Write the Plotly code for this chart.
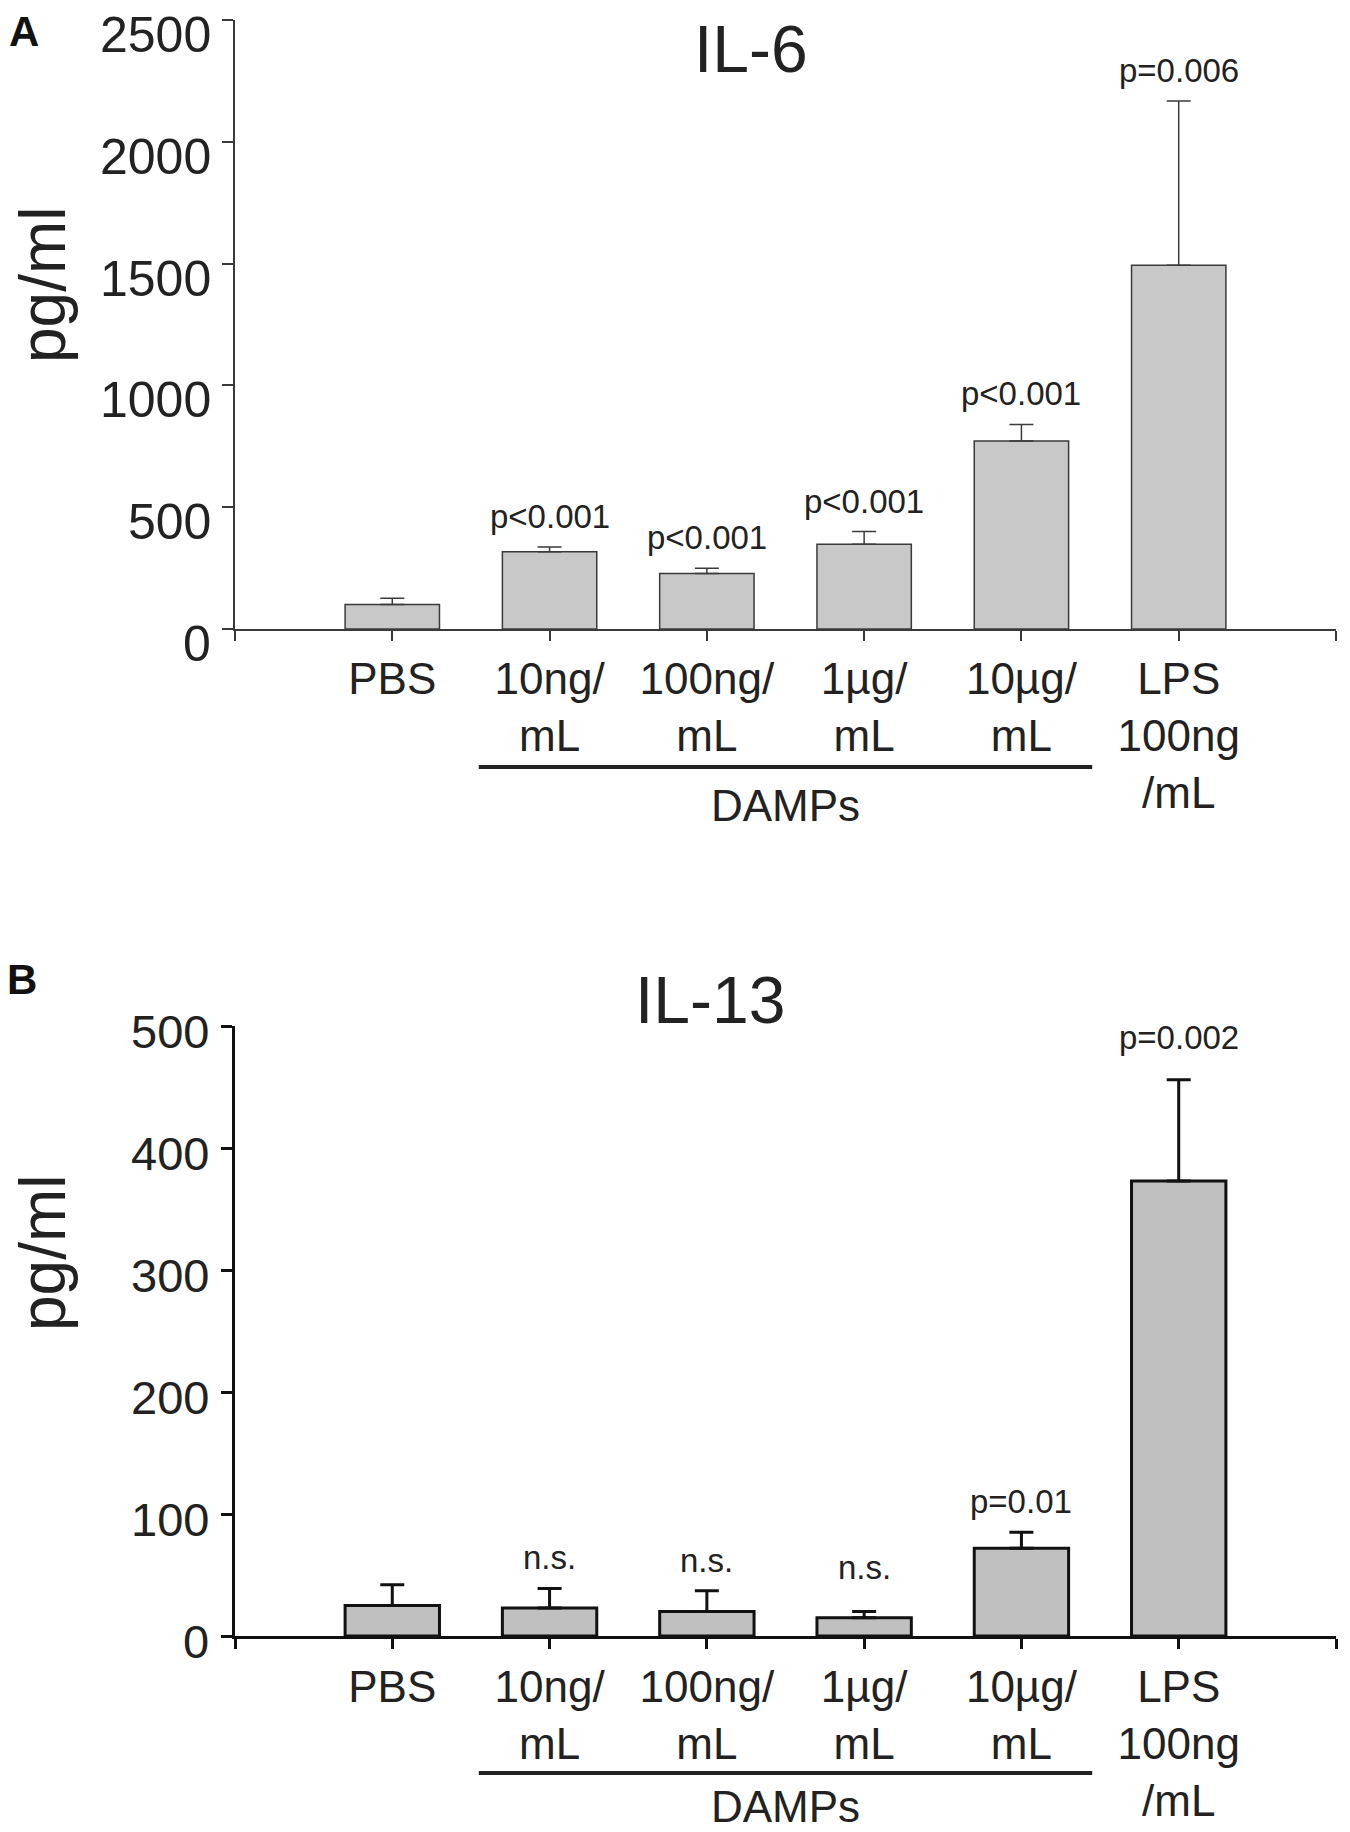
import plotly.graph_objects as go

# categories shared by both panels
categories = ["PBS", "10ng/<br>mL", "100ng/<br>mL", "1µg/<br>mL", "10µg/<br>mL", "LPS<br>100ng<br>/mL"]

# IL-6 (panel A): mean and top of error bar, pg/ml
il6_mean = [101, 317, 228, 348, 772, 1493]
il6_top = [126, 337, 249, 400, 840, 2167]
il6_labels = ["", "p<0.001", "p<0.001", "p<0.001", "p<0.001", "p=0.006"]
il6_ticks = [0, 500, 1000, 1500, 2000, 2500]

# IL-13 (panel B)
il13_mean = [25, 23, 20, 15, 72, 373]
il13_top = [42, 39, 37, 20, 85, 456]
il13_labels = ["", "n.s.", "n.s.", "n.s.", "p=0.01", "p=0.002"]
il13_ticks = [0, 100, 200, 300, 400, 500]

# the page body adds an 8px margin, so the figure is a bit smaller than the window
OFF = 8
W, H = 1350 - OFF, 1832 - OFF
FONT = "Liberation Sans, Arial, sans-serif"
TXT = "#222222"

xpos = list(range(1, len(categories) + 1))


def px_x(v):
    return (v - OFF) / W


def px_y(v):
    return 1 - (v - OFF) / H


panels = [
    dict(mean=il6_mean, top=il6_top, labels=il6_labels, ticks=il6_ticks,
         lift=[0, 0, 0, 0, 0, 0], tick_drop=-15, tick_right=213,
         fill="#c8c8c8", lc="#3a3a3a", lw=1.5, tfont=50, top_px=20, bot_px=629,
         title="IL-6", title_xy=(751, 49), letter="A", letter_xy=(24, 31),
         ylab_xy=(43, 285), damps_y=767, damps_txt=805),
    dict(mean=il13_mean, top=il13_top, labels=il13_labels, ticks=il13_ticks,
         lift=[0, 0, 0, 14, 0, 12], tick_drop=-5, tick_right=211,
         fill="#c0c0c0", lc="#111111", lw=3, tfont=47, top_px=1026, bot_px=1636,
         title="IL-13", title_xy=(710, 1000), letter="B", letter_xy=(22, 979),
         ylab_xy=(43, 1253), damps_y=1773, damps_txt=1806),
]

fig = go.Figure()
annotations = []
shapes = []
layout = {}

for i, p in enumerate(panels):
    sfx = "" if i == 0 else str(i + 1)
    xa, ya = "x" + sfx, "y" + sfx
    err = [t - m for t, m in zip(p["top"], p["mean"])]
    fig.add_trace(go.Bar(
        x=xpos, y=p["mean"], width=0.6, xaxis=xa, yaxis=ya,
        marker=dict(color=p["fill"], line=dict(color=p["lc"], width=p["lw"])),
        error_y=dict(type="data", symmetric=False, array=err, arrayminus=[0] * len(err),
                     color=p["lc"], thickness=p["lw"], width=12),
        showlegend=False, hoverinfo="skip",
    ))

    layout["xaxis" + sfx] = dict(
        domain=[px_x(235), px_x(1336)], anchor=ya, range=[0, 7], automargin=False,
        tickvals=[0] + xpos + [7], ticktext=[""] + categories + [""],
        showline=True, linecolor=p["lc"], linewidth=p["lw"],
        ticks="outside", ticklen=10, tickwidth=p["lw"], tickcolor=p["lc"],
        showgrid=False, zeroline=False, ticklabelstandoff=0, ticklabeloverflow="allow",
        tickfont=dict(family=FONT, size=44, color=TXT),
    )
    layout["yaxis" + sfx] = dict(
        domain=[px_y(p["bot_px"]), px_y(p["top_px"])], anchor=xa, automargin=False,
        range=[0, p["ticks"][-1]], tickvals=p["ticks"], showticklabels=False,
        showline=True, linecolor=p["lc"], linewidth=p["lw"],
        ticks="outside", ticklen=11, tickwidth=p["lw"], tickcolor=p["lc"],
        showgrid=False, zeroline=False,
    )

    # y tick labels sit a little below their ticks in the original
    for t in p["ticks"]:
        annotations.append(dict(
            x=px_x(p["tick_right"]), y=t, xref="paper", yref=ya, text=str(t),
            showarrow=False, xanchor="right", yanchor="middle", yshift=p["tick_drop"],
            font=dict(family=FONT, size=p["tfont"], color=TXT)))

    # p-value labels above the error caps
    for x, t, lab, lift in zip(xpos, p["top"], p["labels"], p["lift"]):
        if lab:
            annotations.append(dict(
                x=x, y=t, xref=xa, yref=ya, text=lab, showarrow=False,
                yanchor="bottom", yshift=10 + lift,
                font=dict(family=FONT, size=33, color=TXT)))

    # DAMPs bracket line and label
    shapes.append(dict(type="line", xref=xa, yref="paper",
                       x0=1.55, x1=5.45, y0=px_y(p["damps_y"]), y1=px_y(p["damps_y"]),
                       line=dict(color=TXT, width=4)))
    annotations.append(dict(x=3.5, y=px_y(p["damps_txt"]), xref=xa, yref="paper",
                            text="DAMPs", showarrow=False, yanchor="middle",
                            font=dict(family=FONT, size=44, color=TXT)))

    annotations.append(dict(x=px_x(p["title_xy"][0]), y=px_y(p["title_xy"][1]),
                            xref="paper", yref="paper", text=p["title"], showarrow=False,
                            yanchor="middle", font=dict(family=FONT, size=66, color=TXT)))
    annotations.append(dict(x=px_x(p["letter_xy"][0]), y=px_y(p["letter_xy"][1]),
                            xref="paper", yref="paper", text="<b>" + p["letter"] + "</b>",
                            showarrow=False, yanchor="middle", xanchor="center",
                            font=dict(family=FONT, size=42, color="#111111")))
    annotations.append(dict(x=px_x(p["ylab_xy"][0]), y=px_y(p["ylab_xy"][1]),
                            xref="paper", yref="paper", text="pg/ml", textangle=-90,
                            showarrow=False, xanchor="center", yanchor="middle",
                            font=dict(family=FONT, size=64, color=TXT)))

fig.update_layout(
    width=W, height=H, autosize=False,
    margin=dict(l=0, r=0, t=0, b=0),
    paper_bgcolor="white", plot_bgcolor="white",
    annotations=annotations, shapes=shapes,
    **layout,
)

fig.write_html("out.html")
